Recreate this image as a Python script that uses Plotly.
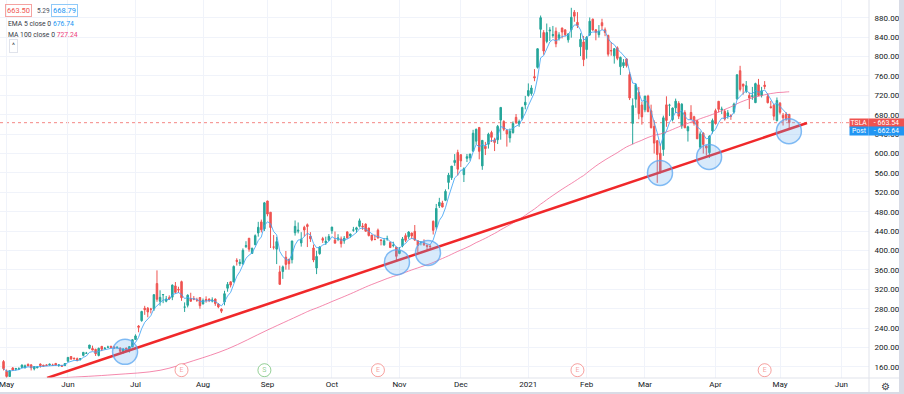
import pandas as pd
import plotly.graph_objects as go

# ---------------- data (TSLA daily) ----------------
holidays = ["2020-05-25", "2020-07-03", "2020-09-07", "2020-11-26", "2020-12-25",
            "2021-01-01", "2021-01-18", "2021-02-15", "2021-04-02", "2021-05-31"]

opens = [171.0,
    # May 2020
    151.0, 140.2, 157.9, 155.3, 155.4, 158.8, 158.1, 165.4, 164.2, 156.0, 158.1, 165.9, 163.3, 164.1, 164.0, 163.6, 167.2, 163.2, 162.7, 162.8,
    # Jun
    171.6, 181.4, 177.6, 177.0, 175.6, 183.8, 188.0, 198.4, 198.0, 196.0, 183.6, 202.4, 197.5, 200.6, 202.6, 201.3, 199.0, 198.8, 190.9, 198.9, 193.8, 201.3,
    # Jul
    216.6, 244.3, 255.3, 281.0, 281.0, 279.4, 279.2, 331.8, 295.4, 308.6, 295.4, 302.7, 303.8, 327.0, 319.8, 335.8, 283.2, 287.0, 300.8, 300.2, 297.6, 303.0,
    # Aug
    289.8, 299.0, 300.0, 295.7, 299.9, 289.6, 279.2, 294.0, 322.2, 335.4, 335.0, 379.8, 373.0, 372.1, 408.0, 425.3, 394.1, 412.0, 436.1, 459.0, 444.6,
    # Sep
    502.1, 478.9, 407.2, 402.8, 356.0, 356.6, 386.2, 381.9, 381.0, 436.6, 439.9, 415.6, 447.9, 453.1, 429.6, 405.2, 363.8, 393.5, 424.6, 416.0, 421.3,
    # Oct
    440.8, 421.4, 423.4, 423.8, 419.9, 438.4, 430.1, 442.0, 443.4, 449.8, 450.3, 454.4, 446.2, 431.8, 422.7, 441.9, 421.8, 411.6, 423.8, 416.5, 410.0, 406.9,
    # Nov
    394.0, 409.7, 430.6, 428.3, 436.1, 439.5, 420.1, 416.5, 415.1, 410.9, 408.9, 460.2, 448.4, 492.0, 498.0, 503.5, 540.4, 550.1, 581.2, 602.2,
    # Dec
    597.6, 556.4, 590.0, 591.0, 604.9, 625.5, 653.7, 574.4, 615.0, 619.0, 643.3, 628.2, 628.2, 668.9, 666.2, 648.0, 632.2, 643.0, 674.5, 661.0, 672.0, 700.0,
    # Jan 2021
    719.5, 723.7, 758.5, 777.6, 856.0, 849.4, 831.0, 852.8, 843.4, 852.0, 837.8, 858.7, 855.0, 834.3, 855.0, 891.4, 870.4, 820.0, 830.0,
    # Feb
    814.3, 844.7, 877.0, 855.0, 845.0, 869.7, 855.1, 843.6, 812.4, 801.3, 818.0, 779.1, 780.9, 795.0, 762.6, 662.1, 711.9, 726.2, 700.0,
    # Mar
    690.1, 718.3, 688.0, 655.8, 626.1, 600.6, 608.2, 700.3, 699.4, 670.0, 694.1, 703.4, 656.9, 684.3, 646.6, 684.6, 675.8, 667.9, 613.0, 641.9, 615.6, 601.8, 646.6,
    # Apr
    688.4, 707.7, 690.3, 687.0, 677.4, 677.8, 685.7, 712.7, 770.7, 743.1, 728.7, 719.6, 717.4, 704.8, 741.5, 719.8, 741.0, 718.0, 696.4, 699.5, 667.6,
    # May
    703.8, 678.9, 681.1, 680.8]

highs = [174.0,
    154.6, 152.4, 159.3, 158.0, 159.2, 164.8, 164.8, 166.9, 165.2, 160.7, 161.0, 167.0, 164.5, 165.2, 166.8, 166.6, 167.8, 165.5, 164.4, 167.0,
    179.8, 181.7, 179.6, 179.2, 177.3, 190.0, 190.9, 205.5, 203.8, 197.6, 199.8, 202.6, 201.0, 203.8, 203.2, 201.6, 202.4, 200.2, 197.2, 199.0, 202.0, 217.5,
    227.1, 246.1, 275.6, 285.9, 283.5, 281.7, 309.8, 359.0, 318.0, 310.0, 306.3, 307.5, 330.0, 335.0, 325.3, 337.8, 293.0, 309.6, 312.9, 306.0, 302.6, 303.4,
    301.0, 305.5, 301.0, 303.4, 301.0, 291.5, 281.0, 317.0, 335.0, 336.2, 369.2, 384.0, 382.2, 404.4, 419.1, 425.8, 405.6, 433.2, 459.1, 463.7, 500.1,
    502.5, 479.0, 431.8, 428.0, 368.7, 369.0, 399.0, 382.5, 420.0, 461.9, 457.8, 437.8, 451.0, 455.7, 437.8, 412.2, 399.5, 408.7, 428.1, 428.5, 433.9,
    448.9, 439.1, 433.6, 428.8, 429.9, 438.8, 434.5, 448.7, 448.9, 465.9, 456.6, 456.0, 447.0, 431.8, 433.0, 445.2, 422.9, 425.8, 430.5, 418.6, 418.1, 407.6,
    407.0, 427.8, 435.4, 440.0, 436.6, 452.5, 420.1, 418.7, 423.0, 412.5, 412.5, 462.0, 496.0, 508.6, 502.5, 526.0, 560.0, 574.0, 598.8, 607.8,
    597.9, 571.5, 599.0, 599.0, 648.8, 651.3, 654.3, 627.8, 624.0, 642.8, 646.9, 632.5, 658.8, 695.0, 668.5, 649.9, 651.5, 666.1, 681.4, 669.9, 696.6, 718.7,
    744.5, 740.8, 774.0, 817.0, 884.5, 854.4, 868.0, 860.5, 863.0, 859.9, 850.0, 859.5, 855.7, 848.0, 900.4, 895.9, 891.5, 848.0, 842.4,
    842.0, 880.5, 878.1, 856.5, 864.8, 877.8, 859.8, 844.8, 829.9, 817.3, 821.0, 799.8, 794.7, 796.8, 768.5, 713.6, 745.0, 737.2, 706.7,
    719.0, 721.1, 700.7, 668.5, 627.8, 620.1, 678.1, 717.9, 702.5, 694.9, 713.2, 707.9, 703.7, 689.2, 657.2, 699.6, 677.8, 668.0, 645.5, 643.8, 616.5, 637.7, 672.0,
    692.4, 708.2, 696.6, 691.4, 689.6, 681.0, 704.8, 763.0, 780.8, 743.7, 749.4, 725.4, 737.3, 746.0, 753.8, 737.4, 749.3, 724.0, 708.5, 702.3, 715.5,
    706.0, 683.5, 685.3, 681.0]

lows = [152.7,
    136.6, 139.6, 152.7, 152.3, 154.5, 157.4, 157.0, 161.6, 152.7, 152.8, 157.3, 158.5, 160.9, 162.4, 162.6, 162.1, 163.0, 160.0, 160.5, 161.6,
    170.8, 174.5, 176.0, 171.7, 173.2, 181.8, 187.0, 196.5, 194.4, 182.5, 181.7, 192.5, 196.5, 198.9, 198.3, 196.9, 198.8, 190.5, 187.4, 190.9, 189.7, 200.8,
    216.1, 231.4, 253.2, 267.3, 262.3, 270.3, 275.2, 294.2, 286.2, 291.4, 293.2, 298.0, 297.6, 311.6, 312.4, 296.2, 273.3, 282.6, 294.9, 297.4, 294.0, 280.0,
    288.9, 292.4, 293.6, 293.0, 285.9, 280.9, 271.0, 287.0, 315.0, 323.8, 334.6, 369.0, 368.2, 371.4, 405.0, 397.5, 393.2, 410.7, 428.5, 437.3, 440.1,
    470.5, 405.1, 402.0, 372.0, 329.9, 341.5, 360.6, 360.5, 373.3, 430.7, 435.3, 408.0, 428.8, 407.1, 417.6, 375.9, 351.3, 391.3, 415.6, 411.6, 420.5,
    434.4, 415.0, 419.3, 406.1, 413.9, 424.7, 426.3, 438.6, 436.6, 447.4, 442.5, 438.9, 428.9, 419.1, 421.3, 424.5, 410.6, 410.0, 420.1, 406.0, 406.5, 379.1,
    392.3, 406.7, 417.1, 424.0, 424.3, 421.0, 396.0, 410.6, 409.5, 401.7, 404.1, 433.0, 443.5, 487.6, 489.1, 501.8, 526.2, 545.4, 574.6, 554.5,
    572.1, 541.2, 582.4, 585.5, 603.1, 618.5, 588.0, 566.3, 596.8, 610.2, 623.8, 605.0, 619.5, 628.5, 646.1, 614.2, 622.6, 641.0, 660.8, 655.0, 668.4, 691.1,
    717.2, 719.2, 749.1, 775.2, 838.4, 803.6, 827.3, 832.0, 838.8, 819.1, 833.0, 837.3, 841.4, 828.6, 838.8, 871.6, 858.7, 801.0, 780.1,
    795.6, 842.2, 853.1, 833.4, 839.0, 854.8, 841.8, 800.0, 801.7, 785.3, 792.4, 762.0, 776.3, 777.4, 710.2, 619.0, 694.2, 670.6, 659.5,
    685.1, 685.0, 651.7, 600.0, 539.5, 558.8, 595.2, 655.1, 677.2, 666.1, 684.0, 671.0, 651.0, 652.0, 624.6, 668.8, 657.5, 630.1, 609.5, 599.9, 596.0, 591.0, 641.1,
    659.4, 684.7, 681.4, 667.8, 671.7, 669.4, 682.1, 710.7, 728.0, 721.3, 724.6, 691.8, 710.7, 704.0, 718.0, 715.5, 732.6, 703.4, 693.6, 668.5, 666.1,
    680.5, 657.7, 667.3, 650.0]

closes = [156.4,
    140.3, 152.2, 153.6, 156.5, 156.0, 163.9, 162.3, 161.9, 158.2, 160.7, 159.8, 162.7, 161.6, 163.1, 165.5, 163.4, 163.8, 164.0, 161.2, 167.0,
    179.6, 176.3, 176.6, 172.9, 177.1, 190.0, 188.1, 205.0, 194.6, 187.1, 198.2, 196.4, 198.4, 200.8, 200.2, 198.9, 200.4, 192.2, 197.2, 191.9, 201.9, 216.0,
    223.9, 241.7, 274.3, 278.0, 273.2, 278.9, 308.9, 299.4, 303.4, 309.2, 300.1, 300.2, 328.6, 313.7, 318.5, 302.6, 283.4, 307.9, 295.3, 299.8, 297.5, 286.2,
    297.0, 297.4, 297.0, 297.9, 290.5, 283.7, 274.9, 311.0, 330.1, 328.7, 367.1, 377.4, 375.7, 400.4, 410.0, 402.8, 404.7, 430.6, 447.8, 442.7, 498.3,
    475.1, 447.4, 407.0, 418.3, 330.2, 366.3, 371.3, 372.7, 419.6, 449.8, 441.8, 423.4, 442.2, 449.4, 424.2, 380.4, 387.8, 407.3, 421.2, 419.1, 429.0,
    448.2, 415.1, 425.7, 414.0, 425.3, 425.9, 434.0, 442.3, 446.7, 461.3, 448.9, 439.7, 430.8, 421.9, 422.6, 425.8, 420.6, 420.3, 424.7, 406.0, 410.8, 388.0,
    400.5, 423.9, 421.0, 438.1, 430.0, 421.3, 410.4, 417.1, 411.8, 408.5, 408.1, 441.6, 486.6, 499.3, 489.6, 521.9, 555.4, 574.0, 585.8, 567.6,
    584.8, 568.8, 593.4, 599.0, 641.8, 649.9, 604.5, 627.1, 610.0, 639.8, 633.3, 622.8, 655.9, 695.0, 649.9, 640.3, 646.0, 661.8, 663.7, 666.0, 694.8, 705.7,
    729.8, 735.1, 756.0, 816.0, 880.0, 811.2, 849.4, 854.4, 845.0, 826.2, 844.6, 850.5, 845.0, 846.6, 880.8, 883.1, 864.2, 835.4, 793.5,
    839.8, 872.8, 854.7, 850.0, 852.2, 863.4, 849.5, 804.8, 811.7, 816.1, 796.2, 798.2, 787.4, 781.3, 714.5, 698.8, 742.0, 682.2, 675.5,
    718.4, 686.4, 653.2, 621.4, 598.0, 563.0, 673.6, 668.1, 699.6, 693.7, 707.9, 676.9, 701.8, 653.2, 654.9, 670.0, 662.2, 630.3, 640.4, 618.7, 611.3, 635.6, 667.9,
    661.8, 691.1, 691.6, 671.0, 683.8, 677.0, 702.0, 762.3, 732.2, 738.9, 739.8, 714.6, 719.0, 744.1, 719.7, 729.4, 738.2, 704.7, 694.4, 677.0, 709.4,
    684.9, 673.6, 670.9, 663.54]

# MA 100 values read off the chart where the indicator has no history inside the data window
ma_early_pos = [12, 19, 35, 50, 61, 72, 85, 97]
ma_early_val = [136.0, 138.0, 144.0, 153.0, 173.0, 197.0, 236.0, 271.0]

# trend line drawn on the chart (bar position, price) and the circled touches
trend_pos = [13.2, 260.8]
trend_price = [137.1, 662.8]
touch_pos = [38.6, 127.2, 137.3, 212.9, 228.9, 254.9]
touch_price = [191.0, 376.0, 395.0, 560.0, 593.0, 646.0]

# chart events (earnings / split) by bar position
event_pos = [57, 84, 121, 186, 247]
event_kind = ["E", "S", "E", "E", "E"]

month_text = {1: "Jan", 2: "Feb", 3: "Mar", 4: "Apr", 5: "May", 6: "Jun", 7: "Jul",
              8: "Aug", 9: "Sep", 10: "Oct", 11: "Nov", 12: "Dec"}

last_close = 663.54
post_price = 662.64
sell_price, spread, buy_price = "663.50", "5.29", "668.79"
ema_last, ma_last = "676.74", "727.24"

# ---------------- calendar / positions ----------------
cal = [d for d in pd.bdate_range("2020-04-30", "2021-06-30") if d.strftime("%Y-%m-%d") not in holidays]
n = len(closes)
assert len(opens) == len(highs) == len(lows) == n
pos = [i - 1 for i in range(len(cal))]          # 2020-05-01 -> 0
xpos = pos[:n]

tickvals, ticktext = [], []
seen = set()
for d, p in zip(cal, pos):
    key = (d.year, d.month)
    if key in seen:
        continue
    seen.add(key)
    if d.year == 2020 and d.month == 4:
        continue
    tickvals.append(p)
    ticktext.append(str(d.year) if d.month == 1 else month_text[d.month])

cs = pd.Series(closes)
ema5 = cs.ewm(span=5, adjust=False).mean()
ma100 = cs.rolling(100).mean()
ma_x = ma_early_pos + [xpos[i] for i in range(n) if not pd.isna(ma100[i])]
ma_y = ma_early_val + [ma100[i] for i in range(n) if not pd.isna(ma100[i])]

# ---------------- styling ----------------
W, H = 904, 394
ML, MR, MT, MB = 0, 35, 0, 16
PW, PH = W - ML - MR, H - MT - MB
UP, DOWN = "#26a69a", "#ef5350"
GRID = "#f0f3fa"
BORDER = "#e0e3eb"
TXT = "#131722"
FONT = "Roboto"
YR = [137.1, 916.5]
XR = [-2.15, 281.0]


def px(x):
    return (x - ML) / PW


def py(y):
    return (PH - (y - MT)) / PH


fig = go.Figure()
fig.add_trace(go.Candlestick(
    x=xpos, open=opens, high=highs, low=lows, close=closes,
    increasing=dict(line=dict(color=UP, width=1), fillcolor=UP),
    decreasing=dict(line=dict(color=DOWN, width=1), fillcolor=DOWN),
    whiskerwidth=0, showlegend=False, hoverinfo="skip"))
fig.add_trace(go.Scatter(x=ma_x, y=ma_y, mode="lines", line=dict(color="rgba(240,98,146,0.75)", width=1, shape="spline"),
                         hoverinfo="skip", showlegend=False))
fig.add_trace(go.Scatter(x=xpos, y=ema5, mode="lines", line=dict(color="rgba(66,165,245,0.85)", width=1),
                         hoverinfo="skip", showlegend=False))
fig.add_trace(go.Scatter(x=trend_pos, y=trend_price, mode="lines", line=dict(color="#f0282a", width=2.5),
                         hoverinfo="skip", showlegend=False))
fig.add_trace(go.Scatter(x=touch_pos, y=touch_price, mode="markers",
                         marker=dict(size=25, color="rgba(100,170,240,0.25)",
                                     line=dict(color="rgba(90,165,240,0.75)", width=1.5)),
                         hoverinfo="skip", showlegend=False))
ev_col = {"E": "rgba(239,83,80,0.55)", "S": "rgba(76,175,80,0.6)"}
fig.add_trace(go.Scatter(x=event_pos, y=[153.2] * len(event_pos), mode="markers+text",
                         text=event_kind, textposition="middle center",
                         textfont=dict(family=FONT, size=7, color=[ev_col[k] for k in event_kind]),
                         marker=dict(size=13, color="white",
                                     line=dict(color=[ev_col[k] for k in event_kind], width=1)),
                         hoverinfo="skip", showlegend=False))

shapes = [
    dict(type="line", xref="paper", yref="y", x0=0, x1=1, y0=last_close, y1=last_close,
         line=dict(color="rgba(239,83,80,0.7)", width=1, dash="dot"), layer="below"),
    dict(type="line", xref="paper", yref="paper", x0=1, x1=1, y0=py(H), y1=1,
         line=dict(color=BORDER, width=1)),
    dict(type="line", xref="paper", yref="paper", x0=0, x1=px(W), y0=0, y1=0,
         line=dict(color=BORDER, width=1)),
    dict(type="rect", xref="paper", yref="paper", x0=px(899), x1=px(W), y0=py(H), y1=1,
         fillcolor="#d9dce6", line=dict(width=0)),
    dict(type="rect", xref="paper", yref="paper", x0=0, x1=px(W), y0=py(H), y1=py(392),
         fillcolor="#d9dce6", line=dict(width=0)),
]

annotations = []


def txt(x, y, s, color=TXT, size=8, anchor="left", **kw):
    annotations.append(dict(xref="paper", yref="paper", x=px(x), y=py(y), text=s, showarrow=False,
                            xanchor=anchor, yanchor="middle",
                            font=dict(family=FONT, size=size, color=color), **kw))


txt(18.5, 10.5, sell_price, color="#ef5350", size=7.5, anchor="center",
    bordercolor="#f5a3a1", borderwidth=1, borderpad=1)
txt(43, 10.5, spread, color="#4a4e5a", size=6.5, anchor="center")
txt(64.5, 10.5, buy_price, color="#2196f3", size=7.5, anchor="center",
    bordercolor="#90caf9", borderwidth=1, borderpad=1)
txt(5.5, 24, f"EMA 5 close 0 <span style='color:#2196f3'>{ema_last}</span>", color="#363a45", size=6.8)
txt(5.5, 34.7, f"MA 100 close 0 <span style='color:#ec407a'>{ma_last}</span>", color="#363a45", size=6.8)
txt(13, 46, "^", color="#363a45", size=7, anchor="center",
    bordercolor=BORDER, borderwidth=1, borderpad=2)
# price labels on the scale (boxes drawn as annotations so they cover the tick labels)
txt(859, 122.6, "TSLA", color="white", size=6.8, anchor="center", bgcolor="#ef5350",
    width=18, height=7.7, borderpad=0)
txt(886, 122.6, f"- {last_close:.2f}", color="white", size=7, anchor="center", bgcolor="#ef5350",
    width=35, height=7.7, borderpad=0)
txt(859, 130.6, "Post", color="white", size=6.8, anchor="center", bgcolor="#2196f3",
    width=18, height=7.7, borderpad=0)
txt(886, 130.6, f"- {post_price:.2f}", color="white", size=7, anchor="center", bgcolor="#2196f3",
    width=35, height=7.7, borderpad=0)
txt(885, 386, "⚙", color="#363a45", size=10, anchor="center")

fig.update_layout(
    width=W, height=H, margin=dict(l=ML, r=MR, t=MT, b=MB),
    paper_bgcolor="white", plot_bgcolor="white",
    font=dict(family=FONT, size=8, color=TXT),
    showlegend=False, shapes=shapes, annotations=annotations,
    xaxis=dict(range=XR, tickvals=tickvals, ticktext=ticktext, showgrid=True, gridcolor=GRID,
               zeroline=False, showline=False, ticks="", tickfont=dict(size=8, color=TXT),
               ticklabeloverflow="allow", rangeslider=dict(visible=False), fixedrange=True),
    yaxis=dict(range=YR, side="right", dtick=40, tick0=0, tickformat=".2f", showgrid=True,
               gridcolor=GRID, zeroline=False, showline=False, ticks="outside", ticklen=3,
               tickcolor="rgba(0,0,0,0)", tickfont=dict(size=8, color=TXT), fixedrange=True),
)

fig.write_html("out.html", config={"displayModeBar": False},
               post_script="document.body.style.margin='0';")
